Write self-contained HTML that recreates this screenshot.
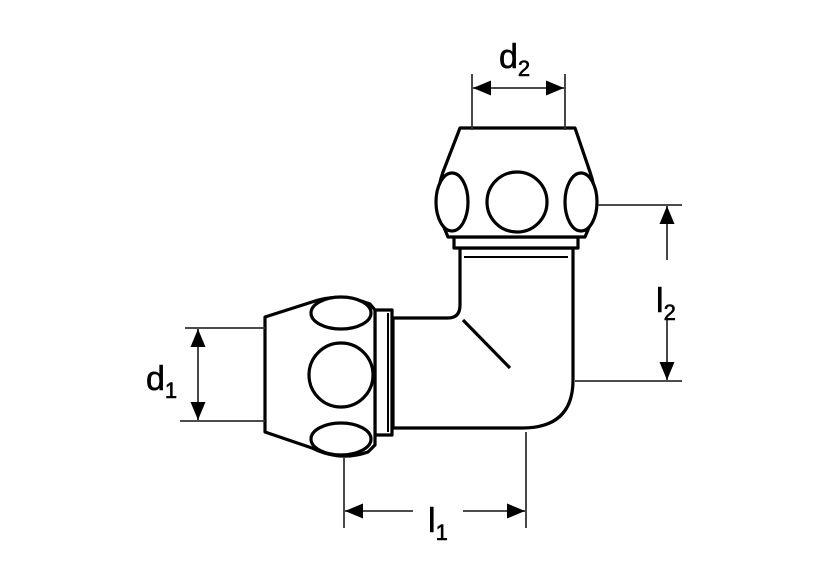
<!DOCTYPE html>
<html><head><style>body{margin:0;background:#fff}svg{display:block}</style></head><body>
<svg width="830" height="584" viewBox="0 0 830 584" xmlns="http://www.w3.org/2000/svg">
<defs>
<marker id="a" viewBox="0 0 10 10" refX="10" refY="5" markerWidth="18" markerHeight="15" markerUnits="userSpaceOnUse" orient="auto-start-reverse" preserveAspectRatio="none"><path d="M0,0 L10,5 L0,10 z" fill="#000"/></marker>
</defs>
<g stroke="#000" stroke-width="3.2" fill="#fff" stroke-linejoin="round">
<path d="M393,318 L448,318 Q460,318 460,305 L460,248 L573,248 L573,380 Q573,428 522,428 L393,428 Z"/>
<line x1="463" y1="320" x2="510" y2="368"/>
<line x1="464" y1="257" x2="568" y2="257" stroke-width="2"/>
<rect x="454" y="237" width="124" height="11"/>
<path d="M460,128 L575,128 L590,172 Q600,200 590,225 L585,237 L448,237 L443,225 Q433,200 443,172 Z"/>
<ellipse cx="517" cy="202" rx="30" ry="30"/>
<ellipse cx="452" cy="202" rx="16" ry="29"/>
<ellipse cx="581" cy="202" rx="16" ry="29"/>
<rect x="375" y="310" width="17" height="125"/>
<line x1="388" y1="313" x2="388" y2="432" stroke-width="2"/>
<path d="M265,317 L312,302 Q340,292 370,304 L375,310 L375,445 L368,452 Q340,462 312,448 L265,432 Z"/>
<ellipse cx="341" cy="313" rx="30" ry="16"/>
<ellipse cx="341" cy="439" rx="30" ry="16"/>
<circle cx="341" cy="375" r="32"/>
</g>
<g stroke="#333" stroke-width="1.8" fill="none">
<line x1="472" y1="74" x2="472" y2="130"/><line x1="565" y1="74" x2="565" y2="130"/>
<line x1="473" y1="88" x2="564" y2="88" marker-start="url(#a)" marker-end="url(#a)"/>
<line x1="598" y1="205" x2="682" y2="205"/><line x1="575" y1="381" x2="682" y2="381"/>
<line x1="667" y1="260" x2="667" y2="206" marker-end="url(#a)"/>
<line x1="667" y1="318" x2="667" y2="380" marker-end="url(#a)"/>
<line x1="185" y1="328" x2="265" y2="328"/><line x1="180" y1="421" x2="265" y2="421"/>
<line x1="198" y1="329" x2="198" y2="420" marker-start="url(#a)" marker-end="url(#a)"/>
<line x1="344" y1="458" x2="344" y2="528"/><line x1="526" y1="432" x2="526" y2="528"/>
<line x1="413" y1="511" x2="345" y2="511" marker-end="url(#a)"/>
<line x1="463" y1="511" x2="525" y2="511" marker-end="url(#a)"/>
</g>
<g font-family="Liberation Sans, sans-serif" fill="#000" stroke="#000" stroke-width="0.6">
<text x="499" y="68" font-size="34">d<tspan font-size="22" dy="8">2</tspan></text>
<text x="656" y="312" font-size="34">l<tspan font-size="22" dy="8">2</tspan></text>
<text x="146" y="390" font-size="34">d<tspan font-size="22" dy="8">1</tspan></text>
<text x="428" y="532" font-size="34">l<tspan font-size="22" dy="8">1</tspan></text>
</g>
</svg>
</body></html>
